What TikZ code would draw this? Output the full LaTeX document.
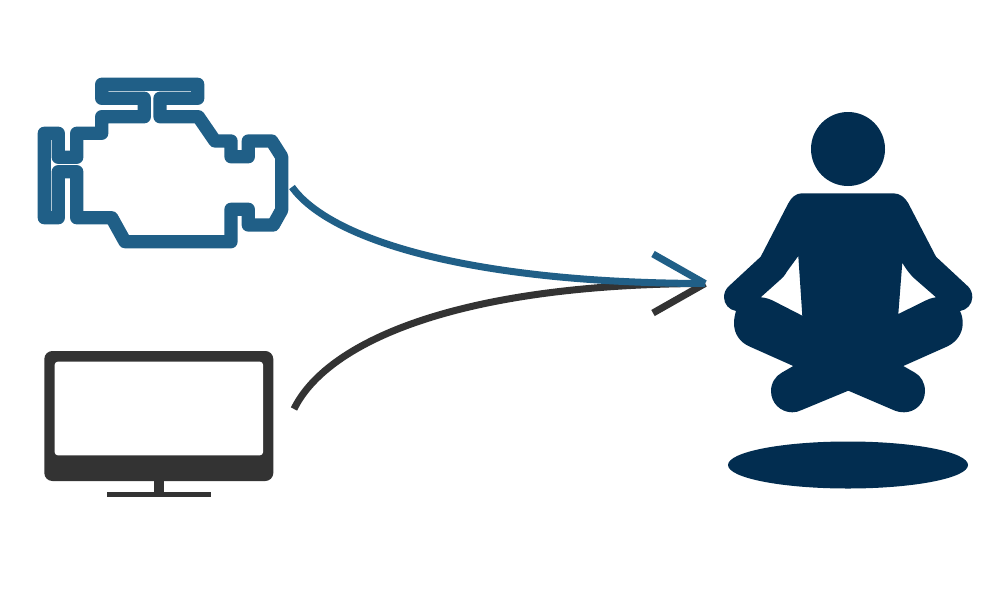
\documentclass[tikz,border=0pt]{standalone}
\definecolor{engineblue}{HTML}{205F87}
\definecolor{monitorgrey}{HTML}{333333}
\definecolor{persondark}{HTML}{022D50}
\tikzset{
	engineline/.style = {draw = engineblue, line width = 1.33mm, line join = round},
	flowline/.style = {line width = 0.7mm},
}
\begin{document}
\begin{tikzpicture}[x = 0.01cm, y = -0.01cm]
	\useasboundingbox (0, 0) rectangle (1000, 600);
	% engine
	\draw[engineline] (101.7, 84.3) -- (197.7, 84.3) -- (197.7, 98.3) -- (160, 98.3) -- (160, 116.7) -- (198.3, 116.7) -- (215, 141) -- (231, 141) -- (231, 156.7) -- (248.3, 156.7) -- (248.3, 141) -- (271.7, 141) -- (281.7, 156.7) -- (281.7, 210) -- (273.3, 225) -- (248.3, 225) -- (248.3, 209.3) -- (231, 209.3) -- (231, 241.7) -- (125, 241.7) -- (111.7, 217.7) -- (76.7, 217.7) -- (76.7, 171.7) -- (58.3, 171.7) -- (58.3, 217.7) -- (44.3, 217.7) -- (44.3, 133.3) -- (58.3, 133.3) -- (58.3, 157.3) -- (76.7, 157.3) -- (76.7, 133.3) -- (101.7, 133.3) -- (101.7, 116.7) -- (144.3, 116.7) -- (144.3, 98.3) -- (101.7, 98.3) -- cycle;
	% monitor
	\fill[monitorgrey, rounded corners = 0.8mm] (44.3, 351) rectangle (273.3, 481);
	\fill[white, rounded corners = 0.3mm] (54.7, 361.7) rectangle (263, 455.3);
	\fill[monitorgrey] (153.7, 481) rectangle (164.3, 492);
	\fill[monitorgrey] (107, 491.7) rectangle (211, 496.7);
	% person
	\fill[persondark] (848, 149) circle [x radius = 37, y radius = 37];
	\fill[persondark] (848, 465) ellipse [x radius = 120, y radius = 23.5];
	\fill[persondark, even odd rule] (801.7, 193.3) -- (893.3, 193.3) .. controls (900, 193.3) and (905, 197.5) .. (908.3, 203.3) -- (936, 256.7) -- (968.3, 286.7) .. controls (971, 289.5) and (972.3, 293) .. (972.3, 297.3) .. controls (972.3, 304) and (967, 310) .. (960, 311) .. controls (962, 315) and (962.7, 319) .. (962.7, 323.3) .. controls (962.7, 334) and (956, 342.5) .. (946.7, 346.7) -- (903.3, 366) -- (915, 372.7) .. controls (921, 376) and (925, 383) .. (925, 391) .. controls (925, 403) and (915.5, 412.3) .. (904, 412.3) .. controls (900.5, 412.3) and (898, 411.8) .. (895, 410.7) -- (848.3, 390.7) -- (801.7, 410) .. controls (798.5, 411.6) and (795.5, 412.3) .. (792.3, 412.3) .. controls (780.5, 412.3) and (771, 403) .. (771, 391) .. controls (771, 383) and (775.5, 376) .. (781.7, 372.7) -- (793.3, 366) -- (750, 346.7) .. controls (740, 342.5) and (734, 334) .. (734, 323.3) .. controls (734, 319) and (734.8, 315) .. (736, 311) .. controls (729, 310) and (724, 304) .. (724, 297.3) .. controls (724, 293) and (725.5, 289.5) .. (728.3, 286.7) -- (760.7, 256.7) -- (788.3, 203.3) .. controls (791.5, 197.5) and (796, 193.3) .. (801.7, 193.3) -- cycle
		(798.3, 256) -- (802.3, 315.7) -- (775, 301.7) .. controls (770, 299) and (765.5, 297.6) .. (760.7, 297.3) -- (780, 280) .. controls (783, 277.5) and (785, 275) .. (787, 271.5) -- cycle
		(902.3, 262.7) -- (898.3, 314) -- (923.3, 301.7) .. controls (927.5, 299.5) and (931.5, 297.8) .. (936, 297.3) -- (915, 279) .. controls (911, 275.5) and (906.5, 270) .. (902.3, 262.7) -- cycle;
	% connectors
	\coordinate (enginePort) at (292, 187);
	\coordinate (monitorPort) at (294, 409);
	\coordinate (personPort) at (705, 283.5);
	\coordinate (barbUp) at (653, 254);
	\coordinate (barbDown) at (653, 313);
	\draw[flowline, monitorgrey] (monitorPort) .. controls (325, 345) and (450, 284) .. (personPort);
	\draw[flowline, monitorgrey] (barbDown) -- (personPort);
	\draw[flowline, engineblue] (enginePort) .. controls (330, 240) and (470, 283) .. (personPort);
	\draw[flowline, engineblue] (barbUp) -- (personPort);
\end{tikzpicture}
\end{document}
